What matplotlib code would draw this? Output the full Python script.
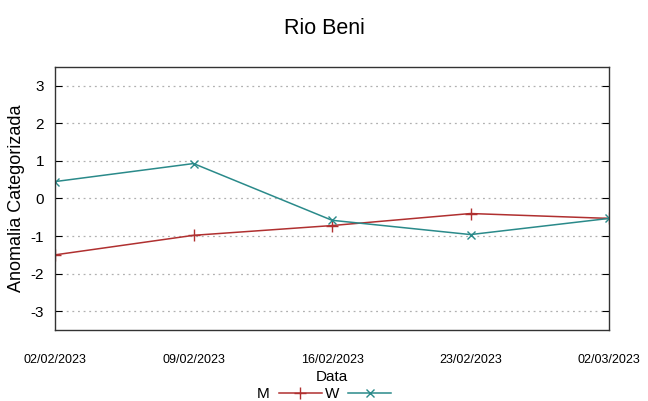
import matplotlib.pyplot as plt
import numpy as np

plt.rcParams['font.family'] = ['Liberation Sans', 'DejaVu Sans']

# data
dates = ['02/02/2023', '09/02/2023', '16/02/2023', '23/02/2023', '02/03/2023']
m_vals = [-1.5, -0.98, -0.72, -0.40, -0.53]
w_vals = [0.45, 0.93, -0.58, -0.96, -0.53]
y_ticks = [-3, -2, -1, 0, 1, 2, 3]

fig = plt.figure(figsize=(6.48, 4.01), dpi=100)
ax = fig.add_axes([0.0849, 0.177, 0.855, 0.656])

x = np.arange(len(dates))
ax.plot(x, m_vals, color='#b03030', lw=1.1, marker='+', ms=9, mew=1.0, label='M')
ax.plot(x, w_vals, color='#2a8a8a', lw=1.1, marker='x', ms=6, mew=1.0, label='W')

ax.set_xlim(x[0], x[-1])
ax.set_ylim(-3.5, 3.5)
ax.set_xticks(x)
ax.set_xticklabels(dates, fontsize=9)
ax.set_yticks(y_ticks)
ax.set_yticklabels([str(v) for v in y_ticks], fontsize=11)
ax.tick_params(axis='x', length=0, pad=17)
ax.tick_params(axis='y', direction='in', length=5, right=True, pad=8)
ax.grid(axis='y', color='#b0b0b0', linestyle=(0, (1.5, 3)), linewidth=0.9)
for s in ax.spines.values():
    s.set_color('#333333')
    s.set_linewidth(1.0)

ax.set_xlabel('Data', fontsize=11, labelpad=3)
ax.set_ylabel('Anomalia Categorizada', fontsize=13, labelpad=4)
fig.suptitle('Rio Beni', fontsize=15.5, y=0.955)

fig.legend(loc='lower center', bbox_to_anchor=(0.5, -0.035), ncol=2, frameon=False,
           markerfirst=False, fontsize=11, handlelength=2.8, columnspacing=0.2,
           handletextpad=0.6)

fig.savefig('out.png', dpi=100)
